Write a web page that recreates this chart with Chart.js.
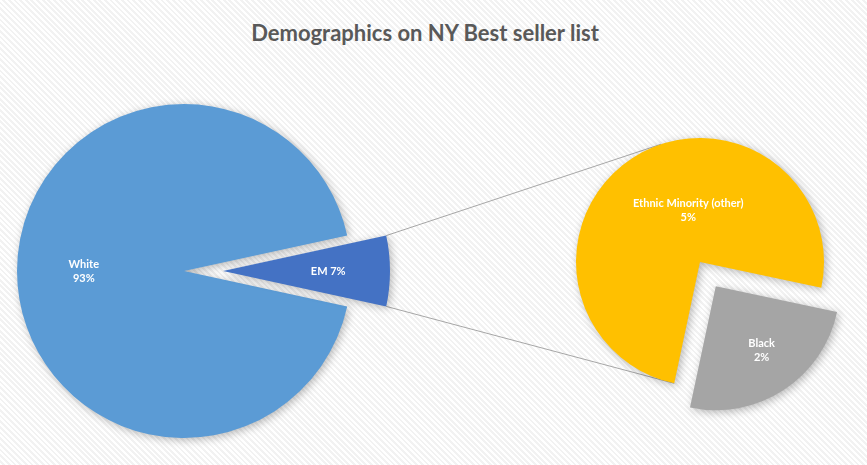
<!DOCTYPE html>
<html>
<head>
<meta charset="utf-8">
<script src="https://cdn.jsdelivr.net/npm/chart.js@4.4.1/dist/chart.umd.min.js"></script>
<style>
  body { margin: 0; }
  #wrap {
    position: relative; width: 867px; height: 465px; overflow: hidden;
    background: repeating-linear-gradient(45deg, #ffffff 0px, #ffffff 2px, #f2f2f2 2px, #f2f2f2 4px);
  }
  #wrap canvas { position: absolute; }
  #title {
    position: absolute; left: 0; width: 850px; top: 19px; text-align: center;
    font: bold 22px Lato, sans-serif; color: #595959;
  }
</style>
</head>
<body>
<div id="wrap">
  <div id="title">Demographics on NY Best seller list</div>
  <canvas id="lines" width="867" height="465"></canvas>
  <canvas id="pieLeft" width="400" height="400"></canvas>
  <canvas id="pieEM" width="400" height="400"></canvas>
  <canvas id="pieRight" width="340" height="340"></canvas>
</div>
<script>
// main pie: the split-off slice (EM) comes first
const leftLabels = ['EM', 'White'];
const leftValues = [6.8, 93.2];
const leftColors = ['#4472C4', '#5B9BD5'];

// secondary pie: breakdown of EM
const rightLabels = ['Black', 'Ethnic Minority (other)'];
const rightValues = [1.7, 5.1];
const rightColors = ['#A5A5A5', '#FFC000'];

const clear = 'rgba(0,0,0,0)';
const total = leftValues.reduce((a, b) => a + b, 0);
const pct = v => Math.round(v / total * 100) + '%';

// layout
const leftBox = { left: -16, top: 71, r: 167, explode: 39 };
const rightBox = { left: 530, top: 92, r: 124, explode: 29, blackMid: 57 };

const emAngle = leftValues[0] / total * 360;
const leftRotation = 90 - emAngle / 2;
const subTotal = rightValues[0] + rightValues[1];
const blackAngle = rightValues[0] / subTotal * 360;
const rightRotation = 90 + rightBox.blackMid - blackAngle / 2;

const shadowPlugin = {
  id: 'softShadow',
  beforeDatasetsDraw(chart) {
    const c = chart.ctx;
    c.save();
    c.shadowColor = 'rgba(0,0,0,0.28)';
    c.shadowBlur = 9;
    c.shadowOffsetX = 2;
    c.shadowOffsetY = 2;
  },
  afterDatasetsDraw(chart) {
    chart.ctx.restore();
  }
};

const labelPlugin = {
  id: 'sliceLabels',
  afterDatasetsDraw(chart, args, opts) {
    const ctx = chart.ctx;
    const arcs = chart.getDatasetMeta(0).data;
    ctx.save();
    ctx.fillStyle = '#ffffff';
    ctx.font = 'bold 11px Lato, sans-serif';
    ctx.textAlign = 'center';
    ctx.textBaseline = 'middle';
    arcs.forEach((arc, i) => {
      if (!opts.show[i]) return;
      const mid = (arc.startAngle + arc.endAngle) / 2;
      const d = arc.outerRadius * opts.fraction[i] + (arc.options.offset || 0) / 4;
      const x = arc.x + Math.cos(mid) * d + (opts.dx ? opts.dx[i] : 0);
      const y = arc.y + Math.sin(mid) * d;
      const lines = opts.text[i];
      lines.forEach((t, k) => ctx.fillText(t, x, y + (k - (lines.length - 1) / 2) * 14));
    });
    ctx.restore();
  }
};

function makePie(id, labels, values, colors, rotation, radius, offsets, labelOpts) {
  return new Chart(document.getElementById(id), {
    type: 'pie',
    data: {
      labels: labels,
      datasets: [{
        data: values,
        backgroundColor: colors,
        borderWidth: 0,
        offset: offsets,
        rotation: rotation,
        radius: radius,
      }],
    },
    options: {
      responsive: false,
      animation: false,
      events: [],
      rotation: rotation,
      radius: radius,
      plugins: {
        legend: { display: false },
        tooltip: { enabled: false },
        sliceLabels: labelOpts,
      },
    },
    plugins: [shadowPlugin, labelPlugin],
  });
}

// place canvases
const cl = document.getElementById('pieLeft');
cl.style.left = leftBox.left + 'px';
cl.style.top = leftBox.top + 'px';
const emMid = (leftRotation - 90 + emAngle / 2) * Math.PI / 180;
const ce = document.getElementById('pieEM');
ce.style.left = (leftBox.left + Math.cos(emMid) * leftBox.explode) + 'px';
ce.style.top = (leftBox.top + Math.sin(emMid) * leftBox.explode) + 'px';
const cr = document.getElementById('pieRight');
cr.style.left = rightBox.left + 'px';
cr.style.top = rightBox.top + 'px';

const whiteChart = makePie('pieLeft', leftLabels, leftValues, [clear, leftColors[1]],
  leftRotation, leftBox.r, [0, 0],
  { show: [false, true], fraction: [0, 0.6], text: [[], [leftLabels[1], pct(leftValues[1])]] });

const emChart = makePie('pieEM', leftLabels, leftValues, [leftColors[0], clear],
  leftRotation, leftBox.r, [0, 0],
  { show: [true, false], fraction: [0.63, 0], text: [[leftLabels[0] + ' ' + pct(leftValues[0])], []] });

const subChart = makePie('pieRight', rightLabels, rightValues, rightColors,
  rightRotation, rightBox.r, [rightBox.explode * 4, 0],
  { show: [true, true], fraction: [0.62, 0.5], dx: [4, 22],
    text: [[rightLabels[0], pct(rightValues[0])], [rightLabels[1], pct(rightValues[1])]] });

// connector lines from the EM slice to the secondary pie
const emArc = emChart.getDatasetMeta(0).data[0];
const ox = parseFloat(ce.style.left), oy = parseFloat(ce.style.top);
const top1 = { x: ox + emArc.x + emArc.outerRadius * Math.cos(emArc.startAngle),
               y: oy + emArc.y + emArc.outerRadius * Math.sin(emArc.startAngle) };
const bot1 = { x: ox + emArc.x + emArc.outerRadius * Math.cos(emArc.endAngle),
               y: oy + emArc.y + emArc.outerRadius * Math.sin(emArc.endAngle) };

const blackArc = subChart.getDatasetMeta(0).data[0];
const rc = { x: rightBox.left + blackArc.x, y: rightBox.top + blackArc.y };
const R = blackArc.outerRadius;
const dist = Math.hypot(top1.x - rc.x, top1.y - rc.y);
const phi = Math.atan2(top1.y - rc.y, top1.x - rc.x);
const tAng = phi + Math.acos(R / dist);
const top2 = { x: rc.x + R * Math.cos(tAng), y: rc.y + R * Math.sin(tAng) };
const bot2 = { x: rc.x + R * Math.cos(blackArc.endAngle), y: rc.y + R * Math.sin(blackArc.endAngle) };

const lctx = document.getElementById('lines').getContext('2d');
lctx.strokeStyle = '#a6a6a6';
lctx.lineWidth = 1;
lctx.beginPath();
lctx.moveTo(top1.x, top1.y);
lctx.lineTo(top2.x, top2.y);
lctx.moveTo(bot1.x, bot1.y);
lctx.lineTo(bot2.x, bot2.y);
lctx.stroke();
</script>
</body>
</html>
